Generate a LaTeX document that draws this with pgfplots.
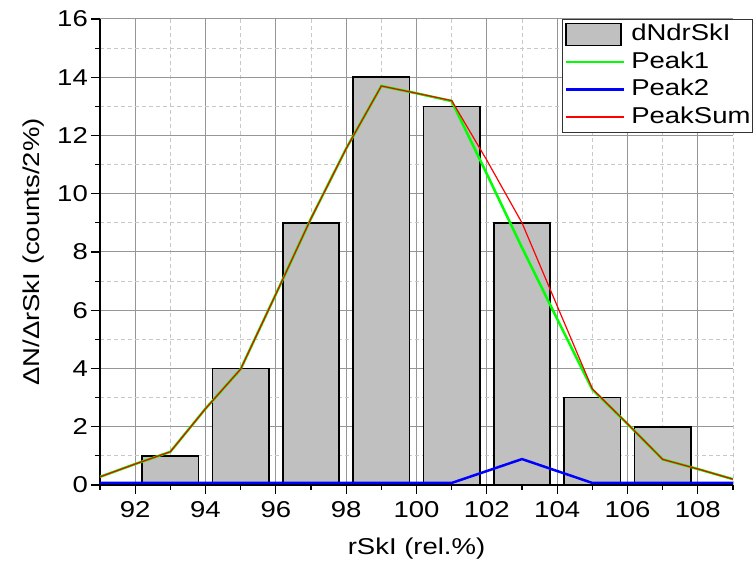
\documentclass[border=0pt]{standalone}
\usepackage{fontspec}
\setmainfont{Liberation Sans}[FakeStretch=1.2]
\usepackage{pgfplots}
\pgfplotsset{compat=1.18}
\definecolor{bargray}{RGB}{192,192,192}
\definecolor{majgrid}{RGB}{150,150,150}
\definecolor{mingrid}{RGB}{200,200,200}
\definecolor{pgreen}{RGB}{0,255,0}
\definecolor{pblue}{RGB}{0,0,255}
\definecolor{pred}{RGB}{255,0,0}
\newcommand{\chartfont}{\fontsize{23}{27}\selectfont}
\pgfplotsset{
  greenlegend/.style={legend image code/.code={\draw[draw=pgreen, line width=2.5bp] (0bp,0bp) -- (58bp,0bp);}},
  bluelegend/.style={legend image code/.code={\draw[draw=pblue, line width=2.5bp] (0bp,0bp) -- (58bp,0bp);}},
  redlegend/.style={legend image code/.code={\draw[draw=pred, line width=1.6bp] (0bp,0.3bp) -- (58bp,0.3bp);}},
  barlegend/.style={legend image code/.code={\draw[fill=bargray, draw=black, line width=1.5bp] (0bp,-11bp) rectangle (55bp,11bp);}},
}
\begin{document}
\begin{tikzpicture}
\path[use as bounding box] (-100bp,-77bp) rectangle (656bp,485bp);
\begin{axis}[
  scale only axis, width=633bp, height=466bp,
  at={(0,0)}, anchor=south west,
  xmin=91, xmax=109, ymin=0, ymax=16,
  xtick={92,94,...,108}, ytick={0,2,...,16},
  minor xtick={91,93,...,109}, minor ytick={1,3,...,15},
  axis x line*=bottom, axis y line*=left,
  axis line style={black, line width=1.4bp, -},
  tick align=outside,
  major tick length=9bp, minor tick length=5bp,
  every tick/.style={black, line width=1.2bp},
  grid=both,
  major grid style={majgrid, line width=1bp},
  minor grid style={mingrid, line width=0.8bp, dash pattern=on 4bp off 3bp},
  /pgf/number format/assume math mode=true,
  every tick label/.append style={font=\chartfont},
  xticklabel style={inner sep=0pt, anchor=north, text height=16.5bp, text depth=0bp, yshift=-7bp},
  yticklabel style={inner sep=0pt, anchor=east, xshift=-3bp},
  xlabel={rSkI (rel.\%)},
  ylabel={ΔN/ΔrSkI (counts/2\%)},
  xlabel style={font=\chartfont, at={(axis description cs:0.5,-0.1502)}, anchor=base, inner sep=0pt},
  ylabel style={font=\chartfont, at={(axis description cs:-0.0948,0.5)}, anchor=base, inner sep=0pt},
  legend style={at={(axis description cs:1.0316,1)}, anchor=north east,
    draw=black!80, line width=1bp, fill=white, font=\chartfont,
    inner xsep=2bp, inner ysep=1.5bp, column sep=6bp, row sep=0pt,
    nodes={inner xsep=0pt, inner ysep=3.5bp, text height=16.5bp, text depth=4bp}},
  legend cell align=left,
]
\addplot[ybar, bar width=1.6, fill=bargray, draw=black, line width=1.5bp, barlegend]
  coordinates {(93,1) (95,4) (97,9) (99,14) (101,13) (103,9) (105,3) (107,2)};
\addlegendentry{dNdrSkI}
\addplot[pgreen, line width=2.5bp, mark=none, greenlegend]
  coordinates {(91,0.28) (92,0.72) (93,1.14) (94,2.62) (95,3.98) (96,6.55) (97,9.15) (98,11.55) (99,13.70) (100,13.45) (101,13.18) (102,10.68) (103,8.15) (104,5.70) (105,3.28) (106,2.10) (107,0.88) (108,0.55) (109,0.20)};
\addlegendentry{Peak1}
\addplot[pblue, line width=2.5bp, mark=none, bluelegend]
  coordinates {(91,0.07) (101,0.07) (103,0.89) (105,0.07) (109,0.07)};
\addlegendentry{Peak2}
\addplot[pred, line width=1.2bp, mark=none, redlegend]
  coordinates {(91,0.28) (92,0.72) (93,1.14) (94,2.62) (95,3.98) (96,6.55) (97,9.15) (98,11.55) (99,13.70) (100,13.45) (101,13.20) (102,11.15) (103,9.00) (104,6.15) (105,3.30) (106,2.10) (107,0.88) (108,0.55) (109,0.20)};
\addlegendentry{PeakSum}
\end{axis}
\end{tikzpicture}
\end{document}
